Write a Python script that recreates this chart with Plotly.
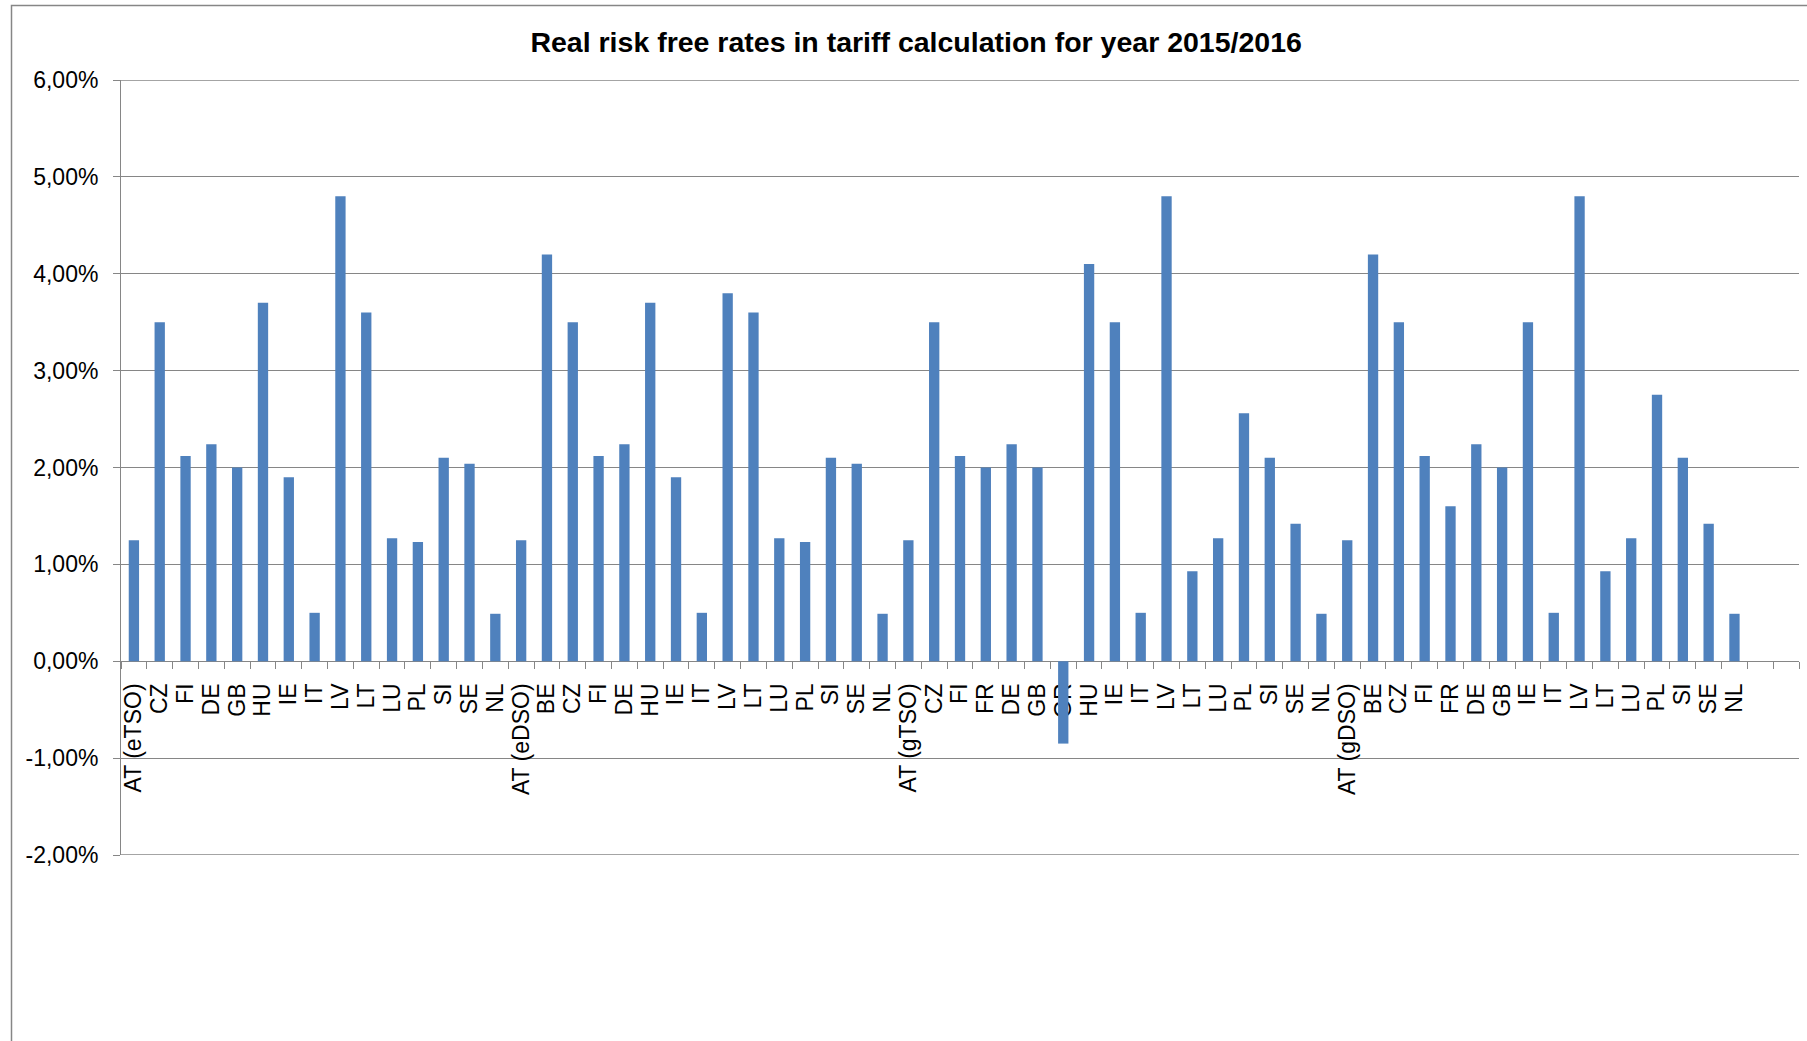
import plotly.graph_objects as go

# Real risk free rates (%) per country, grouped by network operator type
labels_etso = ["AT (eTSO)", "CZ", "FI", "DE", "GB", "HU", "IE", "IT", "LV", "LT",
               "LU", "PL", "SI", "SE", "NL"]
values_etso = [1.25, 3.50, 2.12, 2.24, 2.00, 3.70, 1.90, 0.50, 4.80, 3.60,
               1.27, 1.23, 2.10, 2.04, 0.49]

labels_edso = ["AT (eDSO)", "BE", "CZ", "FI", "DE", "HU", "IE", "IT", "LV", "LT",
               "LU", "PL", "SI", "SE", "NL"]
values_edso = [1.25, 4.20, 3.50, 2.12, 2.24, 3.70, 1.90, 0.50, 3.80, 3.60,
               1.27, 1.23, 2.10, 2.04, 0.49]

labels_gtso = ["AT (gTSO)", "CZ", "FI", "FR", "DE", "GB", "GR", "HU", "IE", "IT",
               "LV", "LT", "LU", "PL", "SI", "SE", "NL"]
values_gtso = [1.25, 3.50, 2.12, 2.00, 2.24, 2.00, -0.85, 4.10, 3.50, 0.50,
               4.80, 0.93, 1.27, 2.56, 2.10, 1.42, 0.49]

labels_gdso = ["AT (gDSO)", "BE", "CZ", "FI", "FR", "DE", "GB", "IE", "IT", "LV",
               "LT", "LU", "PL", "SI", "SE", "NL"]
values_gdso = [1.25, 4.20, 3.50, 2.12, 1.60, 2.24, 2.00, 3.50, 0.50, 4.80,
               0.93, 1.27, 2.75, 2.10, 1.42, 0.49]

# two empty category slots at the end of the axis
labels_blank = ["", ""]
values_blank = [None, None]

y_ticks = [-2, -1, 0, 1, 2, 3, 4, 5, 6]
y_tick_labels = ["-2,00%", "-1,00%", "0,00%", "1,00%", "2,00%", "3,00%",
                 "4,00%", "5,00%", "6,00%"]

title_text = "Real risk free rates in tariff calculation for year 2015/2016"

categories = labels_etso + labels_edso + labels_gtso + labels_gdso + labels_blank
values = values_etso + values_edso + values_gtso + values_gdso + values_blank
positions = list(range(len(categories)))

FONT = "Arial, 'Liberation Sans', sans-serif"
GRID = "#868686"
BLUE = "#4F81BD"

fig = go.Figure(
    go.Bar(
        x=positions,
        y=values,
        marker=dict(color=BLUE, line=dict(width=0)),
        hoverinfo="skip",
    )
)

y_min, y_max = y_ticks[0], y_ticks[-1]
zero_frac = (0 - y_min) / (y_max - y_min)

fig.update_layout(
    width=1807,
    height=1041,
    margin=dict(l=121, r=8, t=80, b=186, pad=0),
    paper_bgcolor="white",
    plot_bgcolor="white",
    bargap=0.6,
    showlegend=False,
    title=dict(
        text="<b>" + title_text + "</b>",
        font=dict(family=FONT, size=28.5, color="black"),
        x=0.507,
        xanchor="center",
        xref="container",
        y=1 - 42 / 1041,
        yanchor="middle",
        yref="container",
    ),
    xaxis=dict(
        range=[-0.5, len(categories) - 0.5],
        tickmode="array",
        tickvals=positions,
        ticktext=categories,
        tickangle=-90,
        tickfont=dict(family=FONT, size=23, color="black"),
        ticks="outside",
        ticklen=12,
        tickcolor="rgba(0,0,0,0)",
        showgrid=False,
        zeroline=False,
        showline=True,
        linecolor=GRID,
        linewidth=1,
        anchor="free",
        position=zero_frac,
        layer="below traces",
        automargin=False,
        minor=dict(
            tickmode="array",
            tickvals=[p - 0.5 for p in positions] + [positions[-1] + 0.5],
            ticks="outside",
            ticklen=7,
            tickwidth=1,
            tickcolor=GRID,
            showgrid=False,
        ),
    ),
    yaxis=dict(
        range=[y_min, y_max],
        tickmode="array",
        tickvals=y_ticks,
        ticktext=y_tick_labels,
        tickfont=dict(family=FONT, size=23, color="black"),
        ticks="outside",
        ticklen=7,
        tickwidth=1,
        tickcolor=GRID,
        ticklabelstandoff=10,
        showgrid=True,
        gridcolor=GRID,
        gridwidth=1,
        zeroline=False,
        showline=True,
        linecolor=GRID,
        linewidth=1,
        automargin=False,
    ),
)

# gridlines on the top and bottom edges of the value range
for edge in (y_min, y_max):
    fig.add_shape(
        type="line",
        xref="paper",
        yref="y",
        x0=0,
        x1=1,
        y0=edge,
        y1=edge,
        line=dict(color=GRID, width=1.5),
        layer="below",
    )

# chart-area frame
plot_w = 1807 - 121 - 8
plot_h = 1041 - 80 - 186
fig.add_shape(
    type="rect",
    xref="paper",
    yref="paper",
    x0=(11.5 - 121) / plot_w,
    x1=1.05,
    y0=-0.4,
    y1=1 + (80 - 5.5) / plot_h,
    line=dict(color=GRID, width=1.5),
    fillcolor="rgba(0,0,0,0)",
    layer="below",
)

fig.write_html("out.html")
